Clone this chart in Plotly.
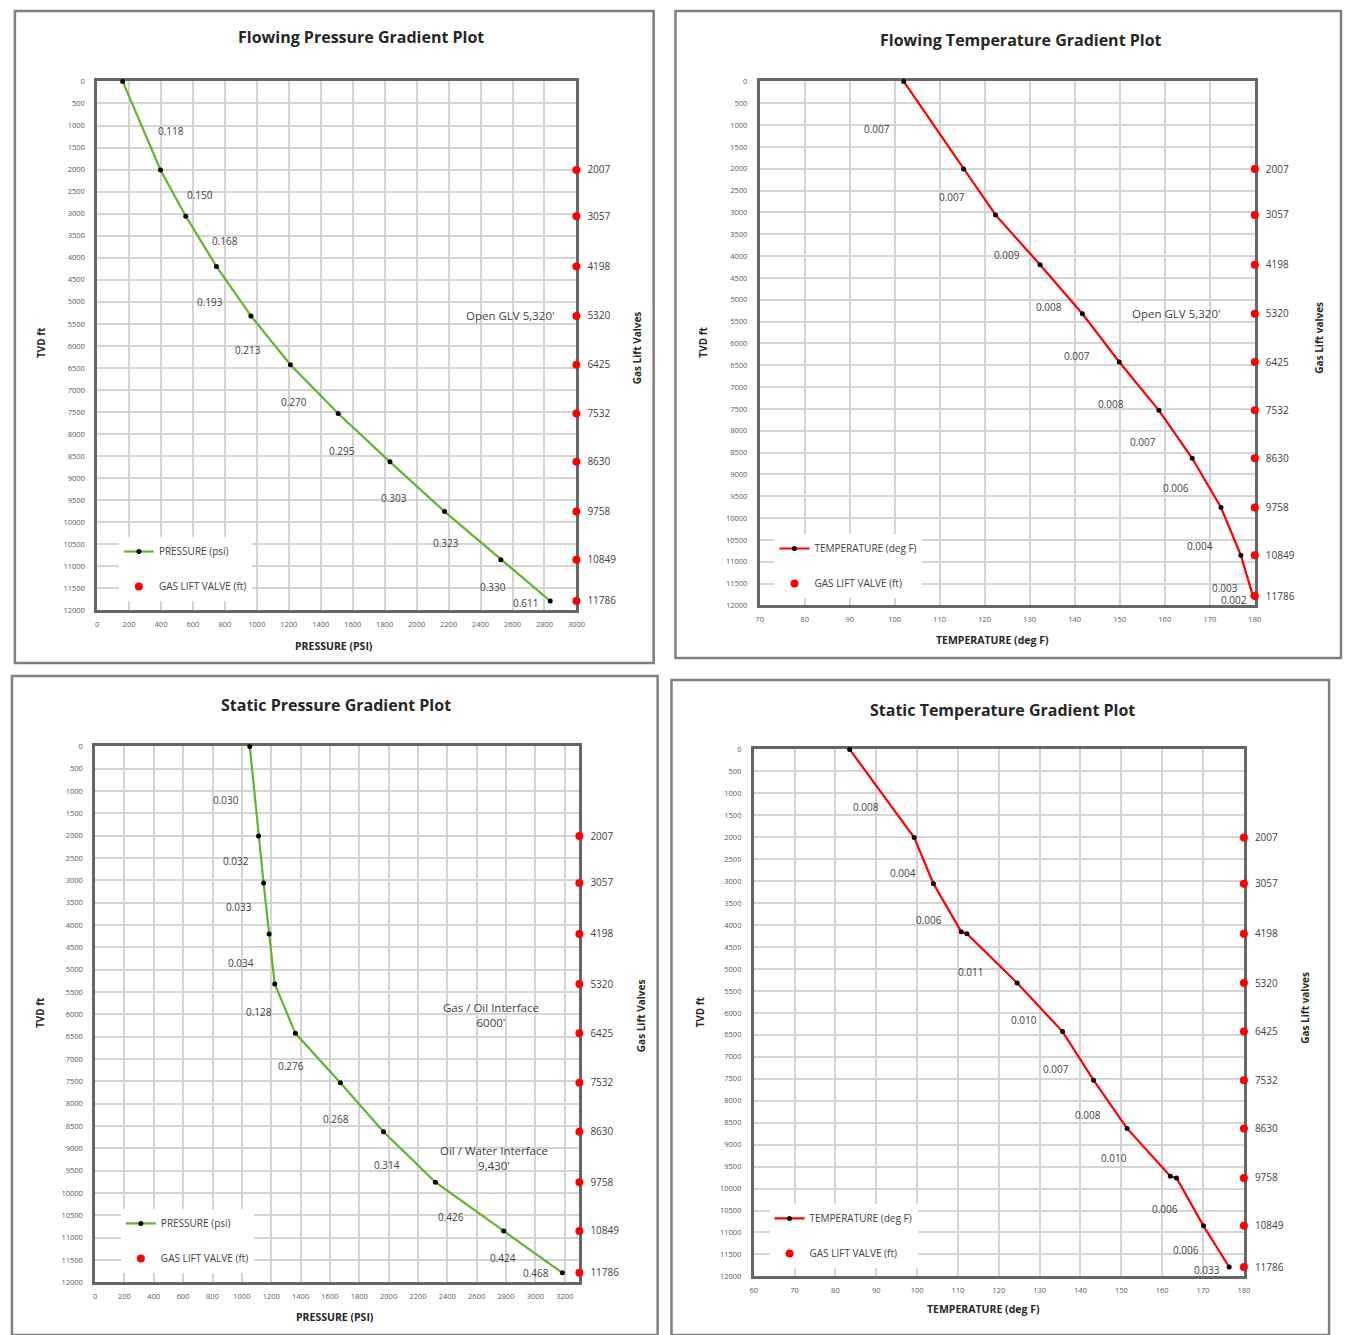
import plotly.graph_objects as go

W, H = 1345, 1335

# ---------------- DATA ----------------
valve_depth = [2007, 3057, 4198, 5320, 6425, 7532, 8630, 9758, 10849, 11786]
valve_labels = ["2007", "3057", "4198", "5320", "6425", "7532", "8630", "9758", "10849", "11786"]

# Flowing pressure
fp_depth = [0, 2007, 3057, 4198, 5320, 6425, 7532, 8630, 9758, 10849, 11786]
fp_pressure = [160, 397, 555, 747, 963, 1210, 1509, 1833, 2175, 2527, 2836]
fp_grad = ["0.118", "0.150", "0.168", "0.193", "0.213", "0.270", "0.295", "0.303", "0.323", "0.330", "0.611"]
fp_grad_x = [465, 645, 800, 707, 942, 1234, 1531, 1860, 2182, 2480, 2685]
fp_grad_y = [1126, 2566, 3625, 4998, 6101, 7272, 8375, 9456, 10469, 11460, 11842]

# Flowing temperature
ft_depth = [0, 2007, 3057, 4198, 5320, 6425, 7532, 8630, 9758, 10849, 11786]
ft_temp = [102.0, 115.3, 122.4, 132.3, 141.7, 149.9, 158.7, 166.1, 172.5, 176.9, 179.6]
ft_grad = ["0.007", "0.007", "0.009", "0.008", "0.007", "0.008", "0.007", "0.006", "0.004", "0.003", "0.002"]
ft_grad_x = [96.0, 112.7, 125.0, 134.2, 140.6, 148.1, 155.1, 162.4, 167.9, 173.4, 175.4]
ft_grad_y = [1091, 2636, 3977, 5159, 6295, 7386, 8250, 9318, 10636, 11591, 11886]

# Static pressure
sp_depth = [0, 2007, 3057, 4198, 5320, 6425, 7532, 8630, 9758, 10849, 11786]
sp_pressure = [1054, 1114, 1148, 1186, 1224, 1365, 1671, 1965, 2319, 2784, 3184]
sp_grad = ["0.030", "0.032", "0.033", "0.034", "0.128", "0.276", "0.268", "0.314", "0.426", "0.424", "0.468"]
sp_grad_x = [892, 959, 980, 993, 1115, 1338, 1642, 1986, 2426, 2777, 3007]
sp_grad_y = [1200, 2555, 3600, 4844, 5955, 7155, 8333, 9377, 10533, 11444, 11800]

# Static temperature
st_depth = [0, 2007, 3057, 4150, 4198, 5320, 6425, 7532, 8630, 9720, 9758, 10849, 11786]
st_temp = [83.5, 99.3, 104.0, 110.8, 112.2, 124.5, 135.6, 143.2, 151.4, 162.0, 163.5, 170.1, 176.4]
st_grad = ["0.008", "0.004", "0.006", "0.011", "0.010", "0.007", "0.008", "0.010", "0.006", "0.006", "0.033"]
st_grad_x = [87.4, 96.6, 102.9, 113.1, 126.2, 133.9, 141.9, 148.2, 160.6, 165.9, 171.0]
st_grad_y = [1311, 2825, 3887, 5062, 6170, 7277, 8317, 9311, 10464, 11390, 11865]

# ---------------- LAYOUT HELPERS ----------------
def pxx(x):
    return x / W

def pyy(y):
    return 1 - y / H

FONT = "Open Sans"
TXT = "#404040"
GREEN = "#62b32f"
RED = "#ff0000"
AXIS = "#666666"

panels = [
    dict(title="Flowing Pressure Gradient Plot", title_xy=(360, 32),
         dom=(94, 578, 77, 610), xr=[0, 3000], dtick=200,
         xtitle="PRESSURE (PSI)", xtitle_xy=(333, 646),
         ytitle_xy=(38, 340), rtitle="Gas Lift Valves", rtitle_xy=(640, 345),
         frame=(11, 6, 656, 663),
         depth=fp_depth, val=fp_pressure, color=GREEN, name="PRESSURE (psi)",
         gl=fp_grad, gx=fp_grad_x, gy=fp_grad_y, leg_xy=(116, 536),
         notes=[("Open GLV 5,320'", 2585, 5313)]),
    dict(title="Flowing Temperature Gradient Plot", title_xy=(1027, 35),
         dom=(763, 1263, 77, 605), xr=[70, 180], dtick=10,
         xtitle="TEMPERATURE (deg F)", xtitle_xy=(998, 640),
         ytitle_xy=(706, 340), rtitle="Gas Lift valves", rtitle_xy=(1328, 335),
         frame=(678, 6, 1350, 658),
         depth=ft_depth, val=ft_temp, color=RED, name="TEMPERATURE (deg F)",
         gl=ft_grad, gx=ft_grad_x, gy=ft_grad_y, leg_xy=(778, 533),
         notes=[("Open GLV 5,320'", 162.6, 5318)]),
    dict(title="Static Pressure Gradient Plot", title_xy=(335, 705),
         dom=(92, 581, 747, 1287), xr=[0, 3300], dtick=200,
         xtitle="PRESSURE (PSI)", xtitle_xy=(334, 1322),
         ytitle_xy=(37, 1015), rtitle="Gas Lift Valves", rtitle_xy=(644, 1018),
         frame=(8, 676, 660, 1340),
         depth=sp_depth, val=sp_pressure, color=GREEN, name="PRESSURE (psi)",
         gl=sp_grad, gx=sp_grad_x, gy=sp_grad_y, leg_xy=(118, 1213),
         notes=[("Gas / Oil Interface<br>6000'", 2696, 6022),
                ("Oil / Water Interface<br>9,430'", 2716, 9222)]),
    dict(title="Static Temperature Gradient Plot", title_xy=(1008, 710),
         dom=(757, 1252, 750, 1281), xr=[60, 180], dtick=10,
         xtitle="TEMPERATURE (deg F)", xtitle_xy=(989, 1314),
         ytitle_xy=(703, 1015), rtitle="Gas Lift valves", rtitle_xy=(1314, 1010),
         frame=(674, 680, 1338, 1340),
         depth=st_depth, val=st_temp, color=RED, name="TEMPERATURE (deg F)",
         gl=st_grad, gx=st_grad_x, gy=st_grad_y, leg_xy=(773, 1208),
         notes=[]),
]

fig = go.Figure()
annotations = []
shapes = []
layout = {}

def paper_text(text, xy, size, angle=0, color="#262626"):
    return dict(text=text, x=pxx(xy[0]), y=pyy(xy[1]), xref="paper", yref="paper",
                xanchor="center", yanchor="middle", textangle=angle, showarrow=False,
                font=dict(size=size, color=color, family=FONT))

for i, p in enumerate(panels, start=1):
    xs = "" if i == 1 else str(i)
    ys2 = str(i + 4)
    xref = "x" + xs
    yref = "y" + xs
    leg = "legend" if i == 1 else "legend" + str(i)
    x0, x1, y0, y1 = p["dom"]

    # main curve
    fig.add_trace(go.Scatter(
        x=p["val"], y=p["depth"], xaxis=xref, yaxis=yref, mode="lines+markers",
        name=p["name"], line=dict(color=p["color"], width=2.2),
        marker=dict(color="black", size=5), legend=leg, legendgroup="a" + str(i),
        cliponaxis=False))
    # valve markers on right border
    fig.add_trace(go.Scatter(
        x=[p["xr"][1]] * len(valve_depth), y=valve_depth, xaxis=xref, yaxis=yref,
        mode="markers", name="GAS LIFT VALVE (ft)",
        marker=dict(color=RED, size=8, symbol="circle"), legend=leg,
        legendgroup="b" + str(i), cliponaxis=False))

    layout["xaxis" + xs] = dict(
        domain=[pxx(x0), pxx(x1)], anchor=yref, range=p["xr"], dtick=p["dtick"],
        tick0=p["xr"][0], showgrid=True, gridcolor="#d4d4d4", gridwidth=1.5,
        showline=True, linecolor=AXIS, linewidth=2.5, mirror=True,
        ticks="", zeroline=False, tickformat="d", layer="below traces",
        tickfont=dict(size=7.5, color="#595959", family=FONT),
        ticklabelstandoff=5)
    layout["yaxis" + xs] = dict(
        domain=[pyy(y1), pyy(y0)], anchor=xref, range=[12000, 0], dtick=500,
        tick0=0, tickformat="d", layer="below traces",
        showgrid=True, gridcolor="#d4d4d4", gridwidth=1.5,
        showline=True, linecolor=AXIS, linewidth=2.5, mirror=True,
        ticks="", zeroline=False, tickfont=dict(size=7.5, color="#595959", family=FONT),
        ticklabelstandoff=8)
    layout["yaxis" + ys2] = dict(
        overlaying=yref, anchor=xref, side="right", range=[12000, 0],
        tickmode="array", tickvals=valve_depth, ticktext=valve_labels,
        showgrid=False, zeroline=False, showline=False, ticks="",
        tickfont=dict(size=10, color=TXT, family=FONT), ticklabelstandoff=10)
    # dummy trace to activate secondary axis
    fig.add_trace(go.Scatter(x=[None], y=[None], xaxis=xref, yaxis="y" + ys2,
                             showlegend=False, hoverinfo="skip"))

    lx, ly = p["leg_xy"]
    layout[leg] = dict(x=pxx(lx), y=pyy(ly), xanchor="left", yanchor="top",
                       bgcolor="white", font=dict(size=10, color=TXT, family=FONT),
                       tracegroupgap=16, itemwidth=30)

    annotations.append(paper_text("<b>" + p["title"] + "</b>", p["title_xy"], 16))
    annotations.append(paper_text("<b>" + p["xtitle"] + "</b>", p["xtitle_xy"], 10.5))
    annotations.append(paper_text("<b>TVD ft</b>", p["ytitle_xy"], 10, angle=-90))
    annotations.append(paper_text("<b>" + p["rtitle"] + "</b>", p["rtitle_xy"], 10, angle=-90))

    # gradient labels
    for t, gx, gy in zip(p["gl"], p["gx"], p["gy"]):
        annotations.append(dict(text=t, x=gx, y=gy, xref=xref, yref=yref,
                                showarrow=False,
                                font=dict(size=10, color=TXT, family=FONT)))
    for t, nx, ny in p["notes"]:
        annotations.append(dict(text=t, x=nx, y=ny, xref=xref, yref=yref,
                                showarrow=False,
                                font=dict(size=11.5, color=TXT, family=FONT)))
    # frame
    fx0, fy0, fx1, fy1 = p["frame"]
    shapes.append(dict(type="rect", xref="paper", yref="paper",
                       x0=pxx(fx0), x1=pxx(fx1), y0=pyy(fy1), y1=pyy(fy0),
                       line=dict(color="#7f7f7f", width=2.5), layer="below"))

fig.update_layout(
    width=W, height=H, margin=dict(l=0, r=0, t=0, b=0),
    paper_bgcolor="white", plot_bgcolor="white",
    annotations=annotations, shapes=shapes, showlegend=True,
    font=dict(family=FONT, color=TXT),
    **layout)

fig.write_html("out.html")
